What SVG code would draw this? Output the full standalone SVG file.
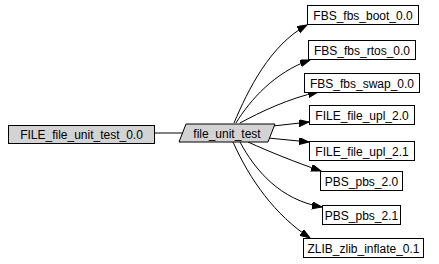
<svg xmlns="http://www.w3.org/2000/svg" width="439" height="264" viewBox="0 0 439 264">
<defs>
<style>
.n rect,.n polygon{stroke:#000;stroke-width:1}
.g{fill:#d3d3d3}
.w{fill:#fff}
text{font-family:"Liberation Sans",Arial,sans-serif;font-size:12px;fill:#000;text-anchor:middle}
.e path{fill:none;stroke:#000;stroke-width:1;marker-end:url(#ah)}
</style>
<marker id="ah" markerUnits="userSpaceOnUse" markerWidth="11" markerHeight="8" refX="10" refY="3.5" orient="auto">
<path d="M0,0 L10,3.5 L0,7 z" fill="#000" stroke="#000" stroke-width="1"/>
</marker>
</defs>
<rect width="439" height="264" fill="#fff"/>
<g class="e" id="connectors">
<path d="M154,133 L183,133" style="marker-end:none"/>
<path d="M234,123 C248,90 270,45 307,25"/>
<path d="M236,123 C250,100 275,72 310,60"/>
<path d="M240,123 C260,112 290,98 318,92"/>
<path d="M273,126 L309,122"/>
<path d="M268,138 L309,142"/>
<path d="M248,142 C270,152 295,162 321,171"/>
<path d="M240,142 C255,170 280,200 322,207"/>
<path d="M233,142 C250,180 275,215 310,238"/>
</g>
<g class="n" id="FILE_file_unit_test_0.0">
<rect class="g" x="8.5" y="125.5" width="146" height="18"/>
<text x="81.5" y="138.5">FILE_file_unit_test_0.0</text>
</g>
<g class="n" id="file_unit_test">
<polygon class="g" points="186,124 275,124 268,142 179,142"/>
<text x="227" y="137.5">file_unit_test</text>
</g>
<g class="n" id="FBS_fbs_boot_0.0">
<rect class="w" x="307.5" y="5.5" width="111" height="19"/>
<text x="363" y="19.5">FBS_fbs_boot_0.0</text>
</g>
<g class="n" id="FBS_fbs_rtos_0.0">
<rect class="w" x="308.5" y="40.5" width="107" height="19"/>
<text x="362" y="54.5">FBS_fbs_rtos_0.0</text>
</g>
<g class="n" id="FBS_fbs_swap_0.0">
<rect class="w" x="304.5" y="73.5" width="115" height="19"/>
<text x="362" y="87.5">FBS_fbs_swap_0.0</text>
</g>
<g class="n" id="FILE_file_upl_2.0">
<rect class="w" x="309.5" y="105.5" width="105" height="19"/>
<text x="362" y="119.5">FILE_file_upl_2.0</text>
</g>
<g class="n" id="FILE_file_upl_2.1">
<rect class="w" x="309.5" y="141.5" width="105" height="19"/>
<text x="362" y="155.5">FILE_file_upl_2.1</text>
</g>
<g class="n" id="PBS_pbs_2.0">
<rect class="w" x="320.5" y="171.5" width="82" height="19"/>
<text x="361.5" y="185.5">PBS_pbs_2.0</text>
</g>
<g class="n" id="PBS_pbs_2.1">
<rect class="w" x="322.5" y="205.5" width="78" height="19"/>
<text x="361.5" y="219.5">PBS_pbs_2.1</text>
</g>
<g class="n" id="ZLIB_zlib_inflate_0.1">
<rect class="w" x="303.5" y="238.5" width="120" height="19"/>
<text x="363.5" y="252.5">ZLIB_zlib_inflate_0.1</text>
</g>
</svg>
